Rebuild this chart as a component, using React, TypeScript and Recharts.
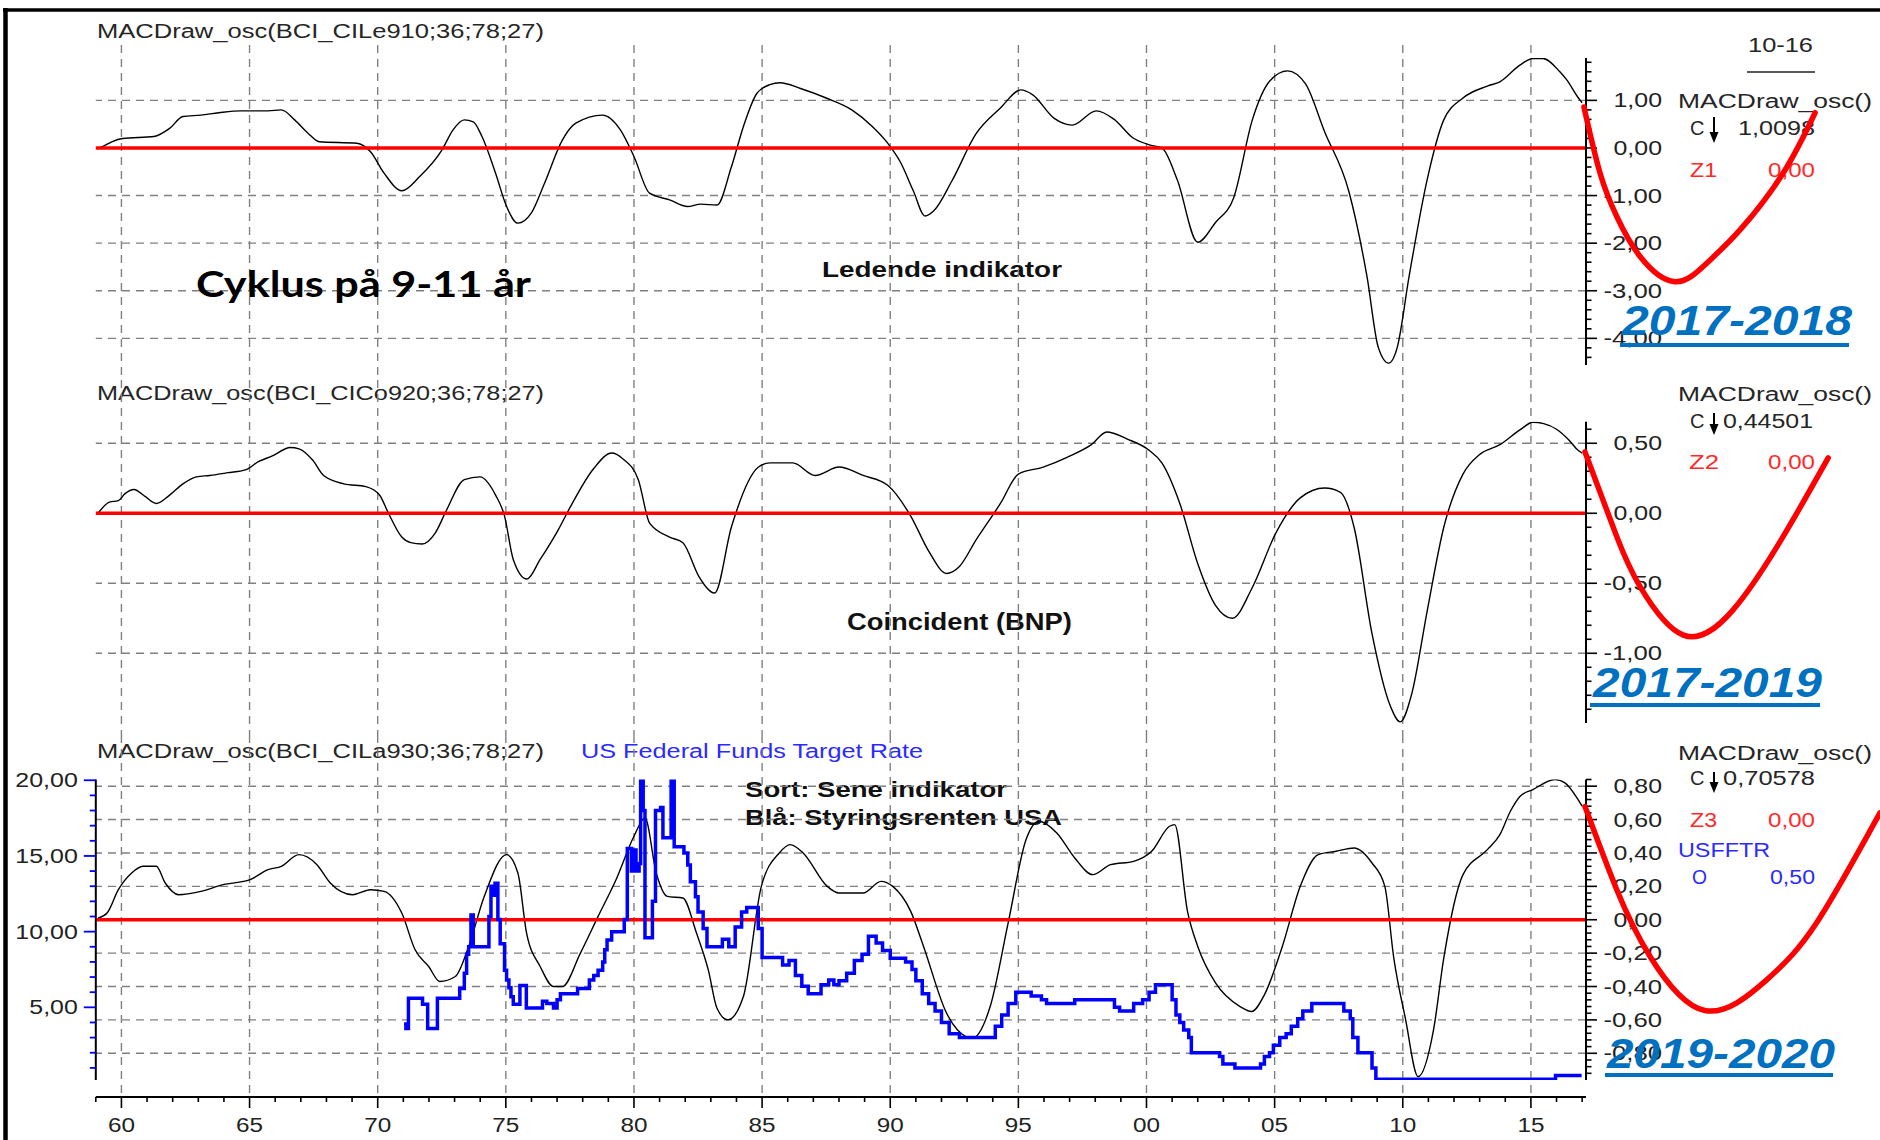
import React from 'react';
import { LineChart, Line, XAxis, YAxis, ReferenceLine } from 'recharts';

const SANS = "'Liberation Sans', Arial, Helvetica, sans-serif";

// ---------- geometry ----------
const CHART_W = 1880;
const CHART_H = 1140;
const PLOT_L = 95.8;
const PLOT_R = 1586;
const AXIS_R_W = CHART_W - PLOT_R;
const X_MIN = 1959;
const X_MAX = 2017.15;
const PX_PER_YEAR = (PLOT_R - PLOT_L) / (X_MAX - X_MIN);
const OV_LEFT = 1576;
const OV_X_MIN = X_MAX - (PLOT_R - OV_LEFT) / PX_PER_YEAR;
const OV_X_MAX = X_MAX + (CHART_W - PLOT_R) / PX_PER_YEAR;

type PanelGeom = { top: number; height: number; mTop: number; mBottom: number; gridFrom: number; gridTo: number };
const P_TOP: PanelGeom = { top: 0, height: 380, mTop: 58, mBottom: 15, gridFrom: 45, gridTo: 380 };
const P_MID: PanelGeom = { top: 380, height: 355, mTop: 41.7, mBottom: 12, gridFrom: 380, gridTo: 735 };
const P_BOT: PanelGeom = { top: 735, height: 405, mTop: 44.5, mBottom: 60, gridFrom: 735, gridTo: 1097 };

// ---------- axes ----------
const TOP_DOMAIN: [number, number] = [-4.56, 1.89];
const MID_DOMAIN: [number, number] = [-1.498, 0.654];
const BOT_DOMAIN: [number, number] = [-0.96, 0.84];
const FED_DOMAIN: [number, number] = [0.2, 20.05];

const steps = (a: number, b: number, s: number) => {
  const out: number[] = [];
  const n = Math.round((b - a) / s);
  for (let i = 0; i <= n; i++) out.push(Math.round((a + i * s) * 1e6) / 1e6);
  return out;
};

const TOP_TICKS = steps(-4.4, 1.8, 0.2);
const MID_TICKS = steps(-1.4, 0.6, 0.1);
const BOT_TICKS = steps(-0.92, 0.84, 0.04);
const FED_TICKS = steps(1, 20, 1);
const AXIS_YEARS = steps(1959, 2017, 1);
const GRID_YEARS = [1960, 1965, 1970, 1975, 1980, 1985, 1990, 1995, 2000, 2005, 2010, 2015];

const TOP_GRID = [1, -1, -2, -3, -4];
const MID_GRID = [0.5, -0.5, -1.0];
const BOT_GRID = [0.8, 0.6, 0.4, 0.2, -0.2, -0.4, -0.6, -0.8];

// ---------- data ----------
const LEADING: [number, number][] = [
  [1959.1, 0.0], [1959.26, 0.03], [1959.62, 0.13], [1960.05, 0.2], [1961.27, 0.24], [1961.88, 0.41],
  [1962.4, 0.66], [1963.1, 0.69], [1963.8, 0.74], [1964.67, 0.78], [1965.72, 0.78], [1966.24, 0.8],
  [1966.76, 0.59], [1967.28, 0.31], [1967.72, 0.13], [1969.19, 0.1], [1969.72, -0.08], [1970.25, -0.53],
  [1970.94, -0.9], [1971.64, -0.6], [1972.51, -0.04], [1972.94, 0.38], [1973.38, 0.59], [1973.73, 0.55],
  [1974.07, 0.24], [1974.6, -0.53], [1975.03, -1.23], [1975.47, -1.58], [1975.99, -1.37], [1976.51, -0.74],
  [1977.21, 0.17], [1977.73, 0.52], [1978.78, 0.69], [1979.47, 0.38], [1980.0, -0.18], [1980.61, -0.95],
  [1981.39, -1.09], [1982.09, -1.23], [1982.6, -1.18], [1983.24, -1.2], [1983.8, -0.4], [1984.3, 0.5],
  [1984.8, 1.15], [1985.3, 1.33], [1985.7, 1.37], [1986.5, 1.25], [1987.5, 1.05], [1988.5, 0.8],
  [1989.3, 0.45], [1989.9, 0.1], [1990.4, -0.3], [1990.9, -0.9], [1991.36, -1.43], [1991.7, -1.32],
  [1992.4, -0.7], [1993.35, 0.3], [1994.3, 0.84], [1995.1, 1.22], [1995.55, 1.12], [1996.4, 0.62],
  [1997.1, 0.48], [1998.04, 0.78], [1998.74, 0.6], [1999.45, 0.22], [2000.15, 0.06], [2000.6, 0.0],
  [2001.2, -0.67], [2002.0, -1.98], [2002.7, -1.56], [2003.4, -1.05], [2004.13, 0.59], [2004.8, 1.4],
  [2005.5, 1.62], [2006.2, 1.35], [2006.95, 0.34], [2007.9, -0.92], [2008.6, -2.69], [2009.05, -4.2],
  [2009.45, -4.52], [2009.78, -4.2], [2010.25, -2.69], [2010.95, -0.67], [2011.6, 0.59], [2012.35, 1.05],
  [2013.3, 1.3], [2013.79, 1.39], [2014.57, 1.74], [2015.08, 1.88], [2015.47, 1.88], [2016.13, 1.6],
  [2016.4, 1.43], [2016.84, 1.06], [2017.0, 0.95],
];

const COINCIDENT: [number, number][] = [
  [1959.09, 0.0], [1959.53, 0.08], [1959.88, 0.09], [1960.14, 0.14], [1960.49, 0.17], [1960.92, 0.12],
  [1961.36, 0.07], [1961.88, 0.13], [1962.4, 0.21], [1962.93, 0.26], [1963.45, 0.27], [1964.15, 0.29],
  [1964.84, 0.31], [1965.36, 0.37], [1965.89, 0.41], [1966.59, 0.47], [1966.93, 0.46], [1967.46, 0.38],
  [1967.89, 0.27], [1968.68, 0.21], [1969.54, 0.19], [1970.07, 0.13], [1970.42, 0.0], [1970.94, -0.17],
  [1971.29, -0.21], [1971.73, -0.22], [1972.25, -0.14], [1972.68, 0.02], [1973.38, 0.24], [1973.99, 0.26],
  [1974.6, 0.13], [1974.95, -0.02], [1975.29, -0.33], [1975.82, -0.47], [1976.34, -0.33], [1977.04, -0.12],
  [1977.56, 0.06], [1978.43, 0.32], [1979.13, 0.43], [1979.56, 0.39], [1980.17, 0.24], [1980.61, -0.07],
  [1981.39, -0.17], [1981.91, -0.21], [1982.53, -0.45], [1983.15, -0.57], [1983.8, -0.1], [1984.86, 0.33],
  [1985.3, 0.36], [1986.2, 0.36], [1987.07, 0.27], [1988.0, 0.33], [1988.94, 0.27], [1989.9, 0.2],
  [1990.8, -0.02], [1991.5, -0.27], [1992.2, -0.43], [1992.7, -0.38], [1993.35, -0.19], [1994.3, 0.07],
  [1995.0, 0.28], [1995.97, 0.33], [1996.9, 0.4], [1997.85, 0.49], [1998.45, 0.58], [1999.25, 0.53],
  [2000.1, 0.45], [2000.6, 0.36], [2001.3, 0.07], [2002.0, -0.36], [2002.7, -0.66], [2003.35, -0.75],
  [2004.13, -0.53], [2005.05, -0.14], [2006.0, 0.11], [2006.95, 0.18], [2007.57, 0.15], [2008.1, -0.1],
  [2008.8, -0.86], [2009.5, -1.37], [2009.9, -1.49], [2010.35, -1.29], [2010.95, -0.7], [2011.6, -0.1],
  [2012.35, 0.28], [2013.0, 0.42], [2013.79, 0.49], [2014.57, 0.595], [2015.08, 0.65], [2015.5, 0.64],
  [2016.0, 0.6], [2016.5, 0.52], [2016.84, 0.45], [2017.0, 0.43],
];

const LAGGING: [number, number][] = [
  [1959.09, 0.01], [1959.44, 0.04], [1959.88, 0.18], [1960.4, 0.28], [1960.84, 0.32], [1961.36, 0.32],
  [1961.71, 0.22], [1962.23, 0.15], [1963.1, 0.17], [1963.97, 0.21], [1965.02, 0.24], [1965.72, 0.3],
  [1966.24, 0.32], [1966.93, 0.39], [1967.63, 0.33], [1968.15, 0.22], [1969.02, 0.15], [1969.72, 0.18],
  [1970.25, 0.17], [1970.94, 0.04], [1971.46, -0.18], [1971.99, -0.28], [1972.42, -0.37], [1973.03, -0.34],
  [1973.55, -0.16], [1974.16, 0.14], [1975.03, 0.39], [1975.47, 0.28], [1975.81, -0.08], [1976.34, -0.28],
  [1976.86, -0.4], [1977.21, -0.4], [1977.91, -0.2], [1978.6, 0.02], [1979.3, 0.24], [1980.0, 0.5],
  [1980.43, 0.61], [1980.87, 0.28], [1981.3, 0.14], [1981.91, 0.13], [1982.44, -0.08], [1982.9, -0.3],
  [1983.24, -0.53], [1983.66, -0.6], [1984.27, -0.46], [1984.97, 0.2], [1985.67, 0.4], [1986.1, 0.45],
  [1986.6, 0.4], [1987.54, 0.2], [1988.0, 0.16], [1988.94, 0.16], [1989.64, 0.23], [1990.1, 0.2],
  [1990.8, 0.05], [1991.3, -0.16], [1992.2, -0.56], [1992.95, -0.7], [1993.2, -0.71], [1993.9, -0.52],
  [1994.6, -0.02], [1995.3, 0.48], [1995.8, 0.59], [1996.5, 0.52], [1997.2, 0.37], [1997.9, 0.27],
  [1998.6, 0.33], [1999.5, 0.35], [2000.2, 0.41], [2000.9, 0.56], [2001.1, 0.57], [2001.6, 0.05],
  [2002.0, -0.16], [2002.7, -0.38], [2003.65, -0.52], [2004.1, -0.55], [2004.6, -0.45], [2005.3, -0.16],
  [2006.0, 0.2], [2006.7, 0.39], [2007.4, 0.41], [2008.1, 0.43], [2008.8, 0.34], [2009.3, 0.2],
  [2009.65, -0.23], [2010.1, -0.59], [2010.6, -0.94], [2011.2, -0.66], [2011.6, -0.23], [2012.35, 0.27],
  [2013.3, 0.42], [2013.79, 0.51], [2014.2, 0.65], [2014.58, 0.74], [2015.08, 0.78], [2015.94, 0.84],
  [2016.33, 0.82], [2016.84, 0.72], [2017.0, 0.68],
];

const FED_FUNDS: [number, number][] = [
  [1971.03, 3.9], [1971.1, 3.6], [1971.2, 5.6], [1971.75, 5.2], [1971.95, 3.6], [1972.33, 5.6],
  [1973.12, 5.6], [1973.2, 6.25], [1973.38, 7.25], [1973.47, 8.5], [1973.55, 9.0], [1973.64, 11.1],
  [1973.73, 9.0], [1974.25, 9.0], [1974.34, 11.0], [1974.42, 13.0], [1974.51, 12.4], [1974.58, 13.2],
  [1974.69, 10.8], [1974.78, 9.2], [1974.95, 7.45], [1975.03, 6.8], [1975.12, 6.3], [1975.2, 5.7],
  [1975.29, 5.2], [1975.55, 6.45], [1975.8, 4.95], [1976.43, 5.4], [1976.6, 5.25], [1976.86, 4.95],
  [1977.0, 5.5], [1977.13, 5.9], [1977.8, 6.25], [1978.26, 6.8], [1978.43, 7.1], [1978.6, 7.45],
  [1978.78, 8.0], [1978.86, 8.8], [1978.95, 9.45], [1979.13, 10.0], [1979.62, 10.8], [1979.74, 15.5],
  [1979.9, 14.0], [1980.0, 15.4], [1980.08, 14.0], [1980.2, 14.5], [1980.26, 20.0], [1980.36, 18.0],
  [1980.43, 9.6], [1980.72, 12.0], [1980.84, 18.0], [1981.04, 18.2], [1981.13, 16.2], [1981.45, 20.0],
  [1981.57, 15.6], [1981.95, 15.2], [1982.1, 14.4], [1982.2, 13.3], [1982.4, 12.3], [1982.5, 11.3],
  [1982.7, 10.2], [1982.85, 9.0], [1983.45, 9.5], [1983.7, 9.0], [1983.95, 10.3], [1984.2, 11.3],
  [1984.4, 11.6], [1984.85, 10.2], [1985.0, 8.3], [1985.8, 7.8], [1986.05, 8.1], [1986.3, 7.1],
  [1986.55, 6.4], [1986.8, 5.9], [1987.3, 6.5], [1987.6, 6.8], [1987.8, 6.5], [1988.0, 6.75],
  [1988.3, 7.25], [1988.6, 8.1], [1988.9, 8.5], [1989.15, 9.7], [1989.45, 9.25], [1989.7, 8.75],
  [1990.0, 8.25], [1990.6, 8.0], [1990.85, 7.5], [1991.0, 6.75], [1991.25, 5.9], [1991.5, 5.25],
  [1991.75, 4.75], [1992.0, 4.0], [1992.3, 3.25], [1992.7, 3.0], [1994.1, 3.75], [1994.35, 4.5],
  [1994.6, 5.25], [1994.9, 6.0], [1995.5, 5.75], [1995.9, 5.5], [1996.1, 5.25], [1997.2, 5.5],
  [1998.75, 5.0], [1998.95, 4.75], [1999.5, 5.25], [1999.85, 5.5], [2000.1, 6.0], [2000.35, 6.5],
  [2001.0, 5.5], [2001.15, 4.5], [2001.3, 4.0], [2001.45, 3.5], [2001.65, 3.0], [2001.75, 2.0],
  [2002.85, 1.75], [2002.98, 1.25], [2003.45, 1.0], [2004.45, 1.25], [2004.6, 1.75], [2004.8, 2.0],
  [2004.95, 2.5], [2005.2, 3.0], [2005.45, 3.25], [2005.65, 3.75], [2005.9, 4.25], [2006.1, 4.75],
  [2006.45, 5.25], [2007.7, 4.75], [2007.95, 4.25], [2008.05, 3.0], [2008.25, 2.0], [2008.8, 1.0],
  [2008.95, 0.25], [2015.96, 0.5], [2016.98, 0.5],
];

// hand-drawn forecast curves (panel units, years)
const TOP_FORECAST: [number, number][] = [
  [2017.07, 0.86], [2017.7, -0.53], [2018.35, -1.44], [2019.26, -2.28], [2020.62, -2.81],
  [2021.86, -2.42], [2023.16, -1.72], [2024.84, -0.53], [2026.09, 0.74],
];
const MID_FORECAST: [number, number][] = [
  [2017.11, 0.438], [2018.35, -0.167], [2019.26, -0.524], [2020.95, -0.87], [2022.89, -0.69],
  [2024.84, -0.167], [2026.6, 0.395],
];
const BOT_FORECAST: [number, number][] = [
  [2017.11, 0.678], [2018.35, 0.18], [2019.65, -0.22], [2021.79, -0.544], [2024.2, -0.36],
  [2026.15, -0.018], [2028.62, 0.64],
];

const toData = (a: [number, number][]) => a.map(([t, v]) => ({ t, v }));

// value of a panel's axis at an absolute page y (to extend vertical grid into title rows)
const valAt = (g: PanelGeom, d: [number, number], yAbs: number) => {
  const top = g.top + g.mTop;
  const bot = g.top + g.height - g.mBottom;
  return d[1] - ((yAbs - top) * (d[1] - d[0])) / (bot - top);
};

// ---------- tick renderers ----------
const fmt = (v: number) => {
  const r = Math.abs(v) < 1e-9 ? 0 : v;
  return r.toFixed(2).replace('.', ',');
};
const labelWidth = (s: string) =>
  s.split('').reduce((w, c) => w + (c === ',' ? 6.5 : c === '-' ? 10 : 14), 0);

const isMultiple = (v: number, m: number) => {
  const r = v / m;
  return Math.abs(r - Math.round(r)) < 1e-6;
};

const makeRightTick = (majorEvery: number) => (p: any) => {
  const v = p.payload.value;
  const major = isMultiple(v, majorEvery);
  const s = fmt(v);
  return (
    <g>
      <line x1={p.x} x2={p.x + (major ? 11 : 5.5)} y1={p.y} y2={p.y} stroke="#000" strokeWidth={1.6} />
      {major && (
        <text x={p.x + 76} y={p.y + 7} textAnchor="end" fontSize={20} fontFamily={SANS} fill="#222"
          textLength={labelWidth(s)} lengthAdjust="spacingAndGlyphs">{s}</text>
      )}
    </g>
  );
};

const leftTick = (p: any) => {
  const v = p.payload.value;
  const major = isMultiple(v, 5);
  const s = fmt(v);
  return (
    <g>
      <line x1={p.x - (major ? 12 : 6)} x2={p.x} y1={p.y} y2={p.y} stroke="#0000ff" strokeWidth={1.8} />
      {major && (
        <text x={p.x - 18} y={p.y + 7} textAnchor="end" fontSize={20} fontFamily={SANS} fill="#222"
          textLength={labelWidth(s)} lengthAdjust="spacingAndGlyphs">{s}</text>
      )}
    </g>
  );
};

const xTick = (p: any) => {
  const yr = Math.round(p.payload.value);
  const major = yr % 5 === 0;
  const s = String(yr % 100).padStart(2, '0');
  return (
    <g>
      <line x1={p.x} x2={p.x} y1={p.y} y2={p.y + (major ? 11 : 5)} stroke="#000" strokeWidth={1.6} />
      {major && (
        <text x={p.x} y={p.y + 35} textAnchor="middle" fontSize={20} fontFamily={SANS} fill="#222"
          textLength={27} lengthAdjust="spacingAndGlyphs">{s}</text>
      )}
    </g>
  );
};

const GRID_STYLE = { stroke: '#808080', strokeWidth: 1.4, strokeDasharray: '8 6' };

const vGrid = (g: PanelGeom, d: [number, number], yAxisId: string) =>
  GRID_YEARS.map((yr) => (
    <ReferenceLine key={`v${yr}`} yAxisId={yAxisId} ifOverflow="visible" {...GRID_STYLE}
      segment={[{ x: yr, y: valAt(g, d, g.gridFrom) }, { x: yr, y: valAt(g, d, g.gridTo) }]} />
  ));

// ---------- text helpers ----------
type TProps = {
  x: number; y: number; w?: number; size: number; fill?: string; bold?: boolean; italic?: boolean;
  family?: string; children: string;
};
const T = ({ x, y, w, size, fill = '#262626', bold, italic, family = SANS, children }: TProps) => (
  <text x={x} y={y} fontSize={size} fill={fill} fontWeight={bold ? 700 : 400}
    fontStyle={italic ? 'italic' : 'normal'} fontFamily={family}
    textLength={w} lengthAdjust={w ? 'spacingAndGlyphs' : undefined}>{children}</text>
);

const Arrow = ({ x, y1, y2 }: { x: number; y1: number; y2: number }) => (
  <g>
    <line x1={x} x2={x} y1={y1} y2={y2 - 8} stroke="#000" strokeWidth={2} />
    <path d={`M${x - 4.5},${y2 - 11} L${x + 4.5},${y2 - 11} L${x},${y2} Z`} fill="#000" />
  </g>
);

const BLUE_LABEL = '#0070c0';
const RED_TXT = '#ff2a2a';
const BLUE_TXT = '#2b2bff';

// ---------- panels ----------
const Forecast = ({ geom, domain, data }: { geom: PanelGeom; domain: [number, number]; data: [number, number][] }) => (
  <div style={{ position: 'absolute', left: OV_LEFT, top: geom.top }}>
    <LineChart width={CHART_W - OV_LEFT} height={geom.height}
      margin={{ top: geom.mTop, bottom: geom.mBottom, left: 0, right: 0 }}>
      <XAxis type="number" dataKey="t" domain={[OV_X_MIN, OV_X_MAX]} hide allowDataOverflow />
      <YAxis type="number" domain={domain} hide allowDataOverflow />
      <Line data={toData(data)} dataKey="v" type="natural" stroke="#ff0000" strokeWidth={5.5}
        strokeLinecap="round" dot={false} activeDot={false} isAnimationActive={false} />
    </LineChart>
  </div>
);

const OscPanel = ({ geom, domain, ticks, majorEvery, grid, data }: {
  geom: PanelGeom; domain: [number, number]; ticks: number[]; majorEvery: number; grid: number[];
  data: [number, number][];
}) => (
  <div style={{ position: 'absolute', left: 0, top: geom.top }}>
    <LineChart width={CHART_W} height={geom.height}
      margin={{ top: geom.mTop, bottom: geom.mBottom, left: PLOT_L, right: 0 }}>
      <XAxis type="number" dataKey="t" domain={[X_MIN, X_MAX]} hide allowDataOverflow />
      <YAxis yAxisId="r" orientation="right" type="number" domain={domain} ticks={ticks} interval={0}
        width={AXIS_R_W} tick={makeRightTick(majorEvery)} tickLine={false} tickSize={0} tickMargin={0}
        axisLine={{ stroke: '#000', strokeWidth: 2 }} allowDataOverflow />
      {vGrid(geom, domain, 'r')}
      {grid.map((g) => (
        <ReferenceLine key={g} yAxisId="r" y={g} {...GRID_STYLE} />
      ))}
      <Line yAxisId="r" data={toData(data)} dataKey="v" type="monotone" stroke="#000" strokeWidth={1.4}
        dot={false} activeDot={false} isAnimationActive={false} />
      <ReferenceLine yAxisId="r" y={0} stroke="#ff0000" strokeWidth={3.5} />
    </LineChart>
  </div>
);

const LagPanel = () => (
  <div style={{ position: 'absolute', left: 0, top: P_BOT.top }}>
    <LineChart width={CHART_W} height={P_BOT.height}
      margin={{ top: P_BOT.mTop, bottom: P_BOT.mBottom, left: 0, right: 0 }}>
      <XAxis type="number" dataKey="t" domain={[X_MIN, X_MAX]} hide allowDataOverflow />
      <YAxis yAxisId="l" orientation="left" type="number" domain={FED_DOMAIN} ticks={FED_TICKS} interval={0}
        width={PLOT_L} tick={leftTick} tickLine={false} tickSize={0} tickMargin={0}
        axisLine={{ stroke: '#000', strokeWidth: 2 }} allowDataOverflow />
      <YAxis yAxisId="r" orientation="right" type="number" domain={BOT_DOMAIN} ticks={BOT_TICKS} interval={0}
        width={AXIS_R_W} tick={makeRightTick(0.2)} tickLine={false} tickSize={0} tickMargin={0}
        axisLine={{ stroke: '#000', strokeWidth: 2 }} allowDataOverflow />
      {vGrid(P_BOT, BOT_DOMAIN, 'r')}
      {BOT_GRID.map((g) => (
        <ReferenceLine key={g} yAxisId="r" y={g} {...GRID_STYLE} />
      ))}
      <Line yAxisId="r" data={toData(LAGGING)} dataKey="v" type="monotone" stroke="#000" strokeWidth={1.4}
        dot={false} activeDot={false} isAnimationActive={false} />
      <ReferenceLine yAxisId="r" y={0} stroke="#ff0000" strokeWidth={3.5} />
      <Line yAxisId="l" data={toData(FED_FUNDS)} dataKey="v" type="stepAfter" stroke="#0000ff" strokeWidth={3.5}
        dot={false} activeDot={false} isAnimationActive={false} />
    </LineChart>
  </div>
);

const TimeAxis = () => (
  <div style={{ position: 'absolute', left: 0, top: 0 }}>
    <LineChart width={CHART_W} height={CHART_H} data={AXIS_YEARS.map((t) => ({ t }))}
      margin={{ top: 43, bottom: 0, left: PLOT_L, right: AXIS_R_W }}>
      <XAxis type="number" dataKey="t" domain={[X_MIN, X_MAX]} ticks={AXIS_YEARS} interval={0} height={43}
        tick={xTick} tickLine={false} tickSize={0} tickMargin={0}
        axisLine={{ stroke: '#000', strokeWidth: 2 }} allowDataOverflow />
      <YAxis type="number" domain={[0, 1]} hide />
    </LineChart>
  </div>
);

const UnderText = () => (
  <svg width={CHART_W} height={CHART_H} style={{ position: 'absolute', left: 0, top: 0 }}>
    {/* top panel */}
    <T x={97} y={37.5} w={447} size={19.5}>MACDraw_osc(BCI_CILe910;36;78;27)</T>
    <T x={822} y={276.5} w={240} size={22} bold fill="#111">Ledende indikator</T>
    <T x={1748} y={51.5} w={65} size={20}>10-16</T>
    <line x1={1747} x2={1815} y1={72} y2={72} stroke="#222" strokeWidth={1.5} />
    <T x={1678} y={108} w={194} size={20}>MACDraw_osc()</T>
    <T x={1690} y={135} size={20}>C</T>
    <Arrow x={1714} y1={117} y2={143} />
    <T x={1738} y={135} w={77} size={20}>1,0098</T>
    <T x={1690} y={176.5} w={27} size={20} fill={RED_TXT}>Z1</T>
    <T x={1768} y={176.5} w={47} size={20} fill={RED_TXT}>0,00</T>

    {/* middle panel */}
    <T x={97} y={400} w={447} size={19.5}>MACDraw_osc(BCI_CICo920;36;78;27)</T>
    <T x={847} y={630} w={225} size={23} bold fill="#111">Coincident (BNP)</T>
    <T x={1678} y={400.7} w={194} size={20}>MACDraw_osc()</T>
    <T x={1690} y={428.3} size={20}>C</T>
    <Arrow x={1714} y1={413} y2={435} />
    <T x={1723} y={428.3} w={90} size={20}>0,44501</T>
    <T x={1689} y={469.3} w={30} size={20} fill={RED_TXT}>Z2</T>
    <T x={1768} y={469.3} w={47} size={20} fill={RED_TXT}>0,00</T>

    {/* bottom panel */}
    <T x={97} y={758} w={447} size={19.5}>MACDraw_osc(BCI_CILa930;36;78;27)</T>
    <T x={581} y={758} w={342} size={20} fill={BLUE_TXT}>US Federal Funds Target Rate</T>
    <T x={745} y={796.5} w={262} size={22} bold fill="#111">Sort: Sene indikator</T>
    <T x={745} y={825} w={317} size={22} bold fill="#111">Blå: Styringsrenten USA</T>
    <T x={1678} y={760} w={194} size={20}>MACDraw_osc()</T>
    <T x={1690} y={785} size={20}>C</T>
    <Arrow x={1714} y1={772} y2={793} />
    <T x={1723} y={785} w={92} size={20}>0,70578</T>
    <T x={1690} y={827} w={27} size={20} fill={RED_TXT}>Z3</T>
    <T x={1768} y={827} w={47} size={20} fill={RED_TXT}>0,00</T>
    <T x={1678} y={856.7} w={92} size={20} fill={BLUE_TXT}>USFFTR</T>
    <T x={1692} y={884} w={15} size={20} fill={BLUE_TXT}>O</T>
    <T x={1770} y={884} w={45} size={20} fill={BLUE_TXT}>0,50</T>
  </svg>
);

const OverText = () => (
  <svg width={CHART_W} height={CHART_H} style={{ position: 'absolute', left: 0, top: 0 }}>
    <T x={196} y={297} w={335} size={36} bold fill="#000" family="Lato, 'Open Sans', sans-serif">Cyklus på 9-11 år</T>

    <T x={1622} y={335} w={230} size={42} bold italic fill={BLUE_LABEL}>2017-2018</T>
    <rect x={1620} y={343} width={229} height={4} fill={BLUE_LABEL} />
    <T x={1593} y={696.7} w={229} size={42} bold italic fill={BLUE_LABEL}>2017-2019</T>
    <rect x={1590} y={703} width={230} height={4} fill={BLUE_LABEL} />
    <T x={1607} y={1068} w={228} size={42} bold italic fill={BLUE_LABEL}>2019-2020</T>
    <rect x={1605} y={1073} width={228} height={4} fill={BLUE_LABEL} />

    {/* frame */}
    <line x1={5.5} x2={5.5} y1={8} y2={CHART_H} stroke="#000" strokeWidth={4.5} />
    <line x1={3} x2={CHART_W} y1={10} y2={10} stroke="#000" strokeWidth={3.5} />
  </svg>
);

export default function App() {
  return (
    <div style={{ position: 'absolute', left: 0, top: 0, width: CHART_W, height: CHART_H, background: '#fff', overflow: 'hidden' }}>
      <TimeAxis />
      <UnderText />
      <OscPanel geom={P_TOP} domain={TOP_DOMAIN} ticks={TOP_TICKS} majorEvery={1} grid={TOP_GRID} data={LEADING} />
      <OscPanel geom={P_MID} domain={MID_DOMAIN} ticks={MID_TICKS} majorEvery={0.5} grid={MID_GRID} data={COINCIDENT} />
      <LagPanel />
      <Forecast geom={P_TOP} domain={TOP_DOMAIN} data={TOP_FORECAST} />
      <Forecast geom={P_MID} domain={MID_DOMAIN} data={MID_FORECAST} />
      <Forecast geom={P_BOT} domain={BOT_DOMAIN} data={BOT_FORECAST} />
      <OverText />
    </div>
  );
}
